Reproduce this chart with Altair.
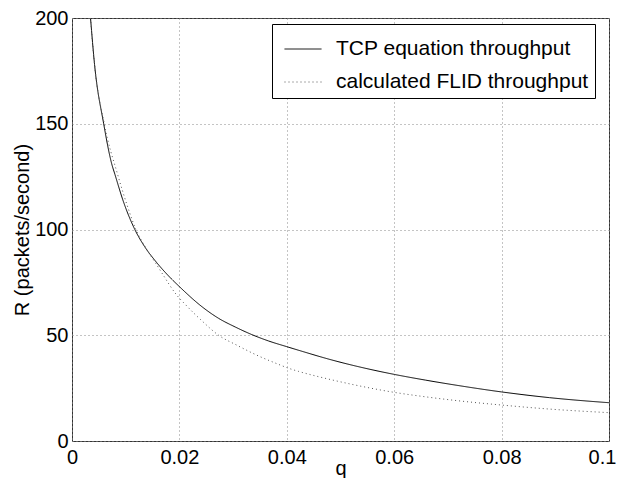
import altair as alt
import pandas as pd

# TCP equation throughput (solid)
tcp_q = [0.00345, 0.0042, 0.0059, 0.0074, 0.0080, 0.0096, 0.0117, 0.0135, 0.0155, 0.0180,
         0.0200, 0.0242, 0.0273, 0.0304, 0.0335, 0.0366, 0.0400, 0.0422, 0.0484, 0.0546,
         0.0600, 0.0658, 0.0720, 0.0800, 0.0889, 0.1000]
tcp_r = [200, 178, 150, 131, 126, 113, 100, 92.0, 85.2, 78.0,
         73.0, 63.5, 58.0, 53.9, 50.3, 47.3, 44.6, 42.9, 38.3, 34.4,
         31.5, 28.8, 26.2, 23.2, 20.5, 18.1]

# calculated FLID throughput (dotted)
flid_q = [0.00345, 0.0042, 0.0060, 0.0085, 0.0102, 0.0119, 0.0138, 0.0158, 0.0173, 0.0181,
          0.0195, 0.0212, 0.0242, 0.0273, 0.0307, 0.0344, 0.0385, 0.0400, 0.0422, 0.0453,
          0.0484, 0.0546, 0.0600, 0.0658, 0.0720, 0.0800, 0.0889, 0.1000]
flid_r = [200, 178, 150, 126.0, 112, 100, 91.1, 83.2, 77.2, 74.0,
          69.0, 64.3, 56.8, 50.0, 45.3, 40.6, 36.2, 34.7, 32.9, 30.8,
          28.9, 25.5, 23.0, 20.9, 19.0, 17.0, 15.1, 13.4]

series_names = ["TCP equation throughput", "calculated FLID throughput"]
x_ticks = [0, 0.02, 0.04, 0.06, 0.08, 0.1]
y_ticks = [0, 50, 100, 150, 200]

rows = []
for q, r in zip(tcp_q, tcp_r):
    rows.append({"q": q, "R": r, "series": series_names[0]})
for q, r in zip(flid_q, flid_r):
    rows.append({"q": q, "R": r, "series": series_names[1]})
df = pd.DataFrame(rows)

FONT = "Liberation Sans"

chart = alt.Chart(df).mark_line(strokeWidth=1, clip=True, interpolate="monotone").encode(
    x=alt.X("q:Q", title="q",
            scale=alt.Scale(domain=[0, 0.1], nice=False, zero=False),
            axis=alt.Axis(values=x_ticks, format="g", grid=True, ticks=False, domain=False,
                          labelPadding=6, titlePadding=-9, labelFlush=False,
                          labelOffset={"condition": {"test": "datum.value >= 0.099", "value": -7},
                                       "value": 0})),
    y=alt.Y("R:Q", title="R (packets/second)",
            scale=alt.Scale(domain=[0, 200], nice=False),
            axis=alt.Axis(values=y_ticks, grid=True, ticks=False, domain=False,
                          labelPadding=4, titlePadding=2)),
    color=alt.Color("series:N", sort=series_names,
                    scale=alt.Scale(domain=series_names, range=["#000000", "#555555"]),
                    legend=alt.Legend(title=None, orient="none", legendX=200, legendY=6,
                                      symbolType="stroke", symbolSize=1369,
                                      symbolStrokeWidth=1, labelFontSize=21, labelFont=FONT,
                                      labelColor="#000", labelLimit=0, padding=6, rowPadding=4,
                                      symbolOffset=6, labelOffset=14,
                                      fillColor="white", strokeColor="#000")),
    strokeDash=alt.StrokeDash("series:N", sort=series_names,
                              scale=alt.Scale(domain=series_names, range=[[1, 0], [1, 3]]),
                              legend=None),
).properties(
    width=537, height=423,
    padding={"left": 64, "top": 10, "right": 7, "bottom": 37},
    autosize=alt.AutoSizeParams(type="none"),
).configure_view(
    stroke="#333", strokeWidth=1
).configure_axis(
    labelFont=FONT, titleFont=FONT, labelFontSize=20, titleFontSize=20,
    titleFontWeight="normal", labelColor="#000", titleColor="#000",
    gridColor="#888", gridDash=[1, 3], gridOpacity=1, gridWidth=1,
)

chart.save("out.html", embed_options={"renderer": "svg", "actions": False})
